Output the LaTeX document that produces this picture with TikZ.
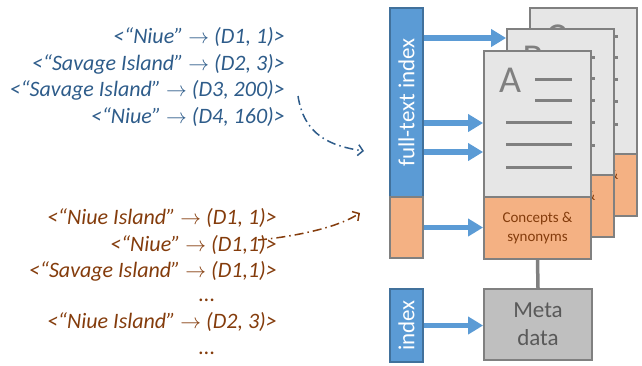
\documentclass[tikz,border=0pt]{standalone}
\usepackage{fontspec}
\setmainfont{Carlito}
\usetikzlibrary{arrows.meta}
\definecolor{barblue}{HTML}{5B9BD5}
\definecolor{barline}{HTML}{41719C}
\definecolor{synfill}{HTML}{F4B183}
\definecolor{docfill}{HTML}{E6E6E6}
\definecolor{docgray}{HTML}{808080}
\definecolor{metafill}{HTML}{BFBFBF}
\definecolor{metatext}{HTML}{595959}
\definecolor{txtblue}{HTML}{2E5C8A}
\definecolor{txtbrown}{HTML}{843C0C}
\begin{document}
\begin{tikzpicture}[x=1pt,y=-1pt]
    \tikzset{idxbar/.style = {draw=barline,fill=barblue,line width=1.2pt,minimum width=33pt,inner sep=0pt},
             barlabel/.style = {rotate=90,text=white,font=\fontsize{23}{26}\selectfont},
             page/.style = {draw=docgray,fill=docfill,line width=1.8pt,minimum width=107pt,minimum height=146pt,inner sep=0pt},
             syn/.style = {draw=docgray,fill=synfill,line width=1.8pt,minimum width=107pt,minimum height=62pt,inner sep=0pt,text=txtbrown,align=center,font=\fontsize{15}{19}\selectfont},
             letter/.style = {text=docgray,inner sep=0pt,font=\fontsize{38}{40}\selectfont},
             rule/.style = {draw=docgray,line width=3pt},
             feed/.style = {draw=barblue,line width=5.5pt,-{Triangle[length=15pt,width=17pt]}},
             hint/.style = {line width=1.5pt,dash pattern=on 9pt off 4pt on 1.5pt off 4pt,-{Straight Barb[length=5pt,width=11pt]}},
             blueline/.style = {anchor=east,inner sep=0pt,text=txtblue,font=\fontsize{22}{26}\selectfont\itshape},
             brownline/.style = {anchor=east,inner sep=0pt,text=txtbrown,font=\fontsize{22}{26}\selectfont\itshape}}
    \useasboundingbox (0,0) rectangle (642,365);
    % postings lists
    \node[blueline] (b1) at (285,37) {<“Niue” $\rightarrow$ (D1, 1)>};
    \node[blueline] (b2) at (285,64) {<“Savage Island” $\rightarrow$ (D2, 3)>};
    \node[blueline] (b3) at (285,90) {<“Savage Island” $\rightarrow$ (D3, 200)>};
    \node[blueline] (b4) at (285,117) {<“Niue” $\rightarrow$ (D4, 160)>};
    \node[brownline] (r1) at (277,218) {<“Niue Island” $\rightarrow$ (D1, 1)>};
    \node[brownline] (r2) at (277,245) {<“Niue” $\rightarrow$ (D1,1)>};
    \node[brownline] (r3) at (277,271) {<“Savage Island” $\rightarrow$ (D1,1)>};
    \node[text=txtbrown,font=\fontsize{22}{26}\selectfont\itshape] (r4) at (207,300) {...};
    \node[brownline] (r5) at (277,322) {<“Niue Island” $\rightarrow$ (D2, 3)>};
    \node[text=txtbrown,font=\fontsize{22}{26}\selectfont\itshape] (r6) at (207,353) {...};
    % index bars
    \node[idxbar,minimum height=189pt] (ftidx) at (406.5,102.5) {};
    \node[barlabel] (ftlabel) at (ftidx) {full-text index};
    \node[draw=docgray,fill=synfill,line width=1.2pt,minimum width=33pt,minimum height=61pt,inner sep=0pt] (ftsyn) at (406.5,227.5) {};
    \node[idxbar,minimum height=73pt] (mdidx) at (406.5,325.5) {};
    \node[barlabel] (mdlabel) at (mdidx) {index};
    % documents
    \foreach \n/\dx/\dy in {C/46/-43,B/23/-22,A/0/0}{
        \node[page] (doc\n) at (537.5+\dx,124+\dy) {};
        \node[syn] (syn\n) at (537.5+\dx,228+\dy) {Concepts \&\\synonyms};
        \node[letter] (let\n) at (510+\dx,80+\dy) {\n};
        \draw[rule] (535+\dx,79+\dy) -- (572+\dx,79+\dy);
        \draw[rule] (535+\dx,100+\dy) -- (572+\dx,100+\dy);
        \draw[rule] (506+\dx,122+\dy) -- (572+\dx,122+\dy);
        \draw[rule] (506+\dx,144+\dy) -- (572+\dx,144+\dy);
        \draw[rule] (506+\dx,167+\dy) -- (572+\dx,167+\dy);
    }
    \node[draw=docgray,fill=metafill,line width=1.8pt,minimum width=108pt,minimum height=71pt,inner sep=0pt,align=center,text=metatext,font=\fontsize{23}{28}\selectfont] (meta) at (538,324.5) {Meta\\data};
    \draw[draw=docgray,line width=3.5pt] (synA.south) -- (meta.north);
    % arrows
    \draw[feed] (ftidx.east |- 0,38) -- (docB.west |- 0,38);
    \draw[feed] (ftidx.east |- 0,123) -- (docA.west |- 0,123);
    \draw[feed] (ftidx.east |- 0,152) -- (docA.west |- 0,152);
    \draw[feed] (ftsyn.east) -- (ftsyn.east -| synA.west);
    \draw[feed] (mdidx.east) -- (mdidx.east -| meta.west);
    \coordinate (bstart) at (298,96);
    \coordinate (bend) at (364,151);
    \coordinate (rstart) at (258,240);
    \coordinate (rend) at (360,213);
    \draw[hint,txtblue] (bstart) .. controls (304,135) and (330,146) .. (bend);
    \draw[hint,txtbrown] (rstart) .. controls (290,237) and (335,229) .. (rend);
\end{tikzpicture}
\end{document}
